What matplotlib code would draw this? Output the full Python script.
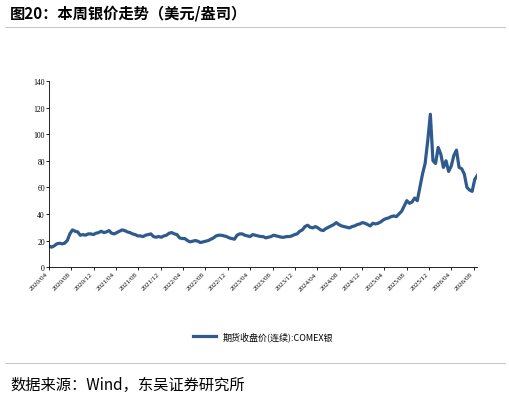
import matplotlib
matplotlib.use("Agg")
import matplotlib.pyplot as plt
import pandas as pd

plt.rcParams['font.family'] = ['Noto Sans CJK SC', 'DejaVu Sans']

start = "2020-04-01"
end = "2026-08-20"
values = [
 16,15,16,17.5,18,17.5,18,20,25,28,27,26.5,24,24.5,24,25,25,24.5,25.5,26,27,26,26.5,27.5,
 25.5,25,26,27,28,27.5,26.5,26,25,24.5,23.5,23.5,23,24,24.5,25,23,22.5,23,22.5,23.5,24,
 25.5,26,25,24.5,22,21.5,21.5,20,19,19.5,20,19.5,18.5,19,19.5,20,21,22,23.5,24,24,23.5,
 23,22,21.5,21,24,25,25,24,23.5,23,24.5,24,23.5,23,23,22,22.5,23,24,23.5,23,22.5,22.5,23,
 23,23.5,24.5,25,27,28,30.5,31.5,30,29.5,30.5,29.5,28,27.5,29,30,31,32,33.5,32,31,30.5,
 30,29.5,30.5,31,32,32.5,33.5,33,32,31,33,32.5,33,34,35.5,36.5,37,38,38.5,38,40,42,
 46,50,48,49,52,50,60,70,78,95,115,80,78,90,85,75,80,72,76,84,88,75,74,70,60,58,57,66,69,
]
dates = pd.date_range(start, end, periods=len(values))

tick_labels = ["2020/04","2020/08","2020/12","2021/04","2021/08","2021/12","2022/04","2022/08",
               "2022/12","2023/04","2023/08","2023/12","2024/04","2024/08","2024/12","2025/04",
               "2025/08","2025/12","2026/04","2026/08"]
tick_dates = pd.to_datetime([t + "/01" for t in tick_labels])

fig = plt.figure(figsize=(5.10, 4.02), dpi=100)
ax = fig.add_axes([0.096, 0.333, 0.84, 0.463])
ax.plot(dates, values, color="#2E5A8E", lw=2.3, label="期货收盘价(连续):COMEX银")
ax.set_xlim(tick_dates[0], pd.Timestamp(end))
ax.set_ylim(0, 140)
ax.set_yticks(range(0, 141, 20))
ax.set_xticks(tick_dates)
ax.set_xticklabels(tick_labels, rotation=45, ha="right", fontsize=5, family="Liberation Serif")
for l in ax.get_yticklabels():
    l.set_fontsize(5.5); l.set_family("Liberation Serif")
ax.tick_params(length=2, width=0.6, pad=1)
for s in ["top", "right"]:
    ax.spines[s].set_visible(False)
ax.spines["left"].set_linewidth(0.6)
ax.spines["bottom"].set_linewidth(0.6)
ax.legend(loc="center", bbox_to_anchor=(0.5, -0.37), frameon=False, fontsize=6.5,
          handlelength=2.5)

fig.text(0.02, 0.955, "图20：本周银价走势（美元/盎司）", fontsize=11, fontweight="bold")
fig.add_artist(plt.Line2D([0.01, 0.99], [0.93, 0.93], color="#BBBBBB", lw=0.6))
fig.add_artist(plt.Line2D([0.01, 0.99], [0.095, 0.095], color="#BBBBBB", lw=0.6))
fig.text(0.02, 0.03, "数据来源：Wind，东吴证券研究所", fontsize=11,
         family=["Noto Sans CJK SC", "DejaVu Sans"])
fig.savefig("out.png", dpi=100)
